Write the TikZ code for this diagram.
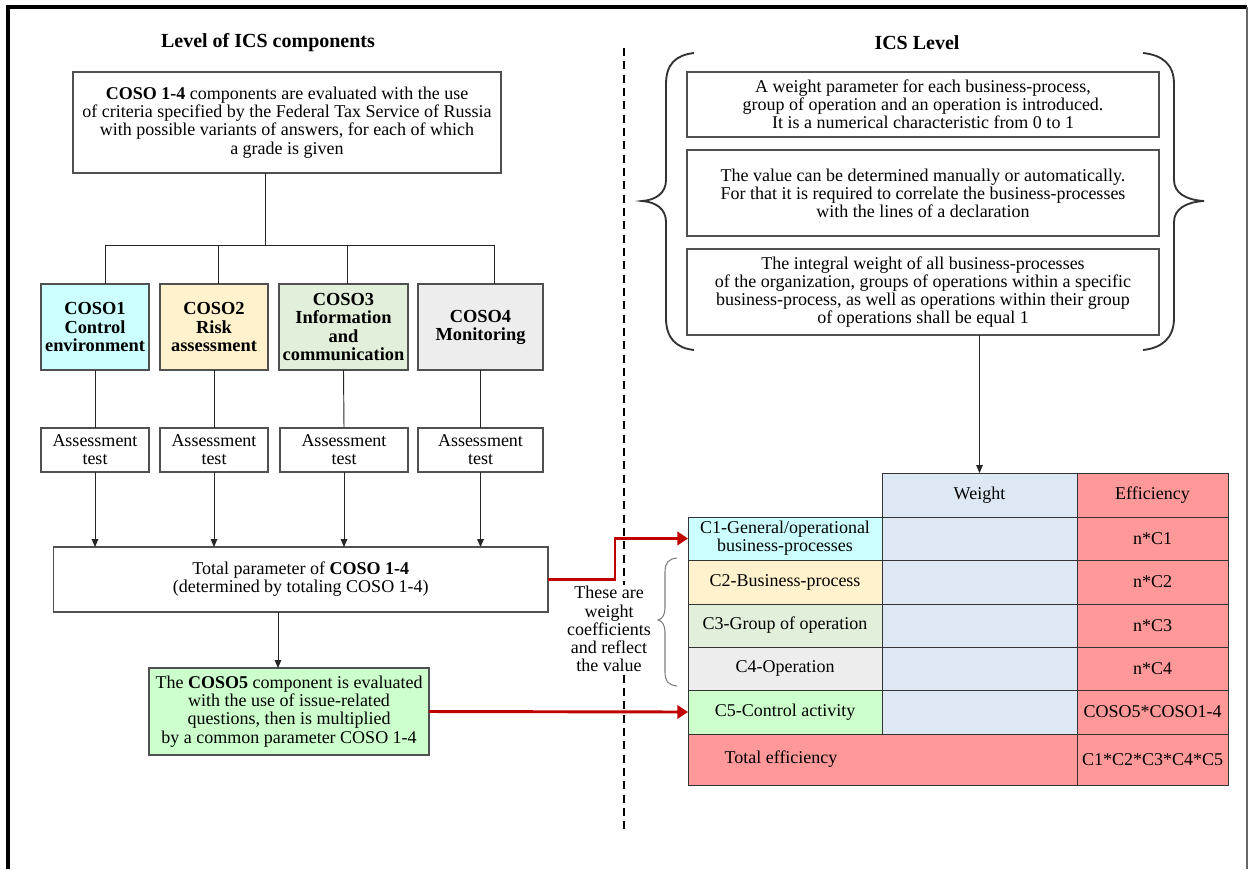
\documentclass[tikz,border=0pt]{standalone}
\usepackage{fontspec}
\setmainfont{Liberation Serif}
\usetikzlibrary{arrows.meta,calc}
\definecolor{cCyan}{HTML}{CCFFFF}
\definecolor{cYellow}{HTML}{FFF2CC}
\definecolor{cSage}{HTML}{E2EFDA}
\definecolor{cGray}{HTML}{EDEDED}
\definecolor{cGreen}{HTML}{CCFFCC}
\definecolor{cBlue}{HTML}{DEE7F4}
\definecolor{cSalmon}{HTML}{FF9999}
\definecolor{cRed}{HTML}{C00000}
\definecolor{boxline}{HTML}{505050}
\newcommand\txtR{\fontsize{13.5}{13.6}\selectfont}
\newcommand\txtB{\fontsize{13.8}{13.6}\selectfont\bfseries}
\begin{document}
\begin{tikzpicture}[x=0.75pt,y=-0.75pt,
  box/.style={draw=boxline, line width=0.8pt, align=center, inner sep=1pt, outer sep=0pt, font=\txtR},
  cosobox/.style={box, font=\txtB, minimum height=64.5pt},
  assess/.style={box, minimum height=33pt},
  cell/.style={draw=black!80, line width=0.7pt, align=center, inner sep=1pt, outer sep=0pt, font=\txtR},
  conn/.style={draw=black!85, line width=0.7pt},
  arr/.style={conn, -{Triangle[length=6pt,width=5pt]}},
  redarr/.style={draw=cRed, line width=2.2pt, -{Triangle[length=8pt,width=10pt]}},
  title/.style={font=\fontsize{15}{16}\selectfont\bfseries},
  brace/.style={draw=black!80, line width=1.4pt},
  smallbrace/.style={draw=black!50, line width=0.8pt}
]
\useasboundingbox (0,0) rectangle (1249,869);
% frame
\draw[line width=2.4pt] (8,869) -- (8,7) -- (1247,7);
\draw[line width=1pt, black!60] (1247,7) -- (1247,869);
% dashed divider
\draw[line width=1pt, dash pattern=on 6pt off 4pt] (624,48) -- (624,830);

% titles
\node[title] (t1) at (268,43) {Level of ICS components};
\node[title] (t2) at (917,43) {ICS Level};

% left side
\node[box, minimum width=321pt, minimum height=75.75pt] (top) at (287,122.5)
  {\textbf{COSO 1-4} components are evaluated with the use\\of criteria specified by the Federal Tax Service of Russia\\with possible variants of answers, for each of which\\a grade is given};

\node[cosobox, fill=cCyan, minimum width=81pt] (coso1) at (95,327) {COSO1\\Control\\environment};
\node[cosobox, fill=cYellow, minimum width=81pt] (coso2) at (214,327) {COSO2\\Risk\\assessment};
\node[cosobox, fill=cSage, minimum width=96.75pt] (coso3) at (343.5,327) {COSO3\\Information\\and\\communication};
\node[cosobox, fill=cGray, minimum width=93.75pt] (coso4) at (480.5,327) {COSO4\\Monitoring};

\node[assess, minimum width=81pt] (as1) at (95,450) {Assessment\\test};
\node[assess, minimum width=81pt] (as2) at (214,450) {Assessment\\test};
\node[assess, minimum width=96pt] (as3) at (344,450) {Assessment\\test};
\node[assess, minimum width=93.75pt] (as4) at (480.5,450) {Assessment\\test};

\node[box, minimum width=370.9pt, minimum height=48.75pt] (total) at (300.75,579.5)
  {Total parameter of \textbf{COSO 1-4}\\(determined by totaling COSO 1-4)};
\node[box, fill=cGreen, minimum width=210pt, minimum height=65.25pt] (coso5) at (289,711.5)
  {The \textbf{COSO5} component is evaluated\\with the use of issue-related\\questions, then is multiplied\\by a common parameter COSO 1-4};

% tree connectors
\coordinate (busy) at (0,245);
\coordinate (topdrop) at ($(top.south)+(-22,0)$);
\coordinate (d1) at ($(coso1.north)+(10,0)$);
\coordinate (d2) at ($(coso2.north)+(4,0)$);
\coordinate (d3) at ($(coso3.north)+(3.5,0)$);
\coordinate (d4) at ($(coso4.north)+(13.5,0)$);
\draw[conn] (topdrop) -- (topdrop |- busy);
\draw[conn] (d1) |- (d4 |- busy) -- (d4);
\draw[conn] (d2) -- (d2 |- busy);
\draw[conn] (d3) -- (d3 |- busy);
\foreach \i in {1,2,3,4} {
  \draw[conn] (coso\i.south) -- (as\i.north);
  \draw[arr] (as\i.south) -- (as\i.south |- total.north);
}
\draw[arr] ($(total.south -| coso5.north)+(-11,0)$) -- ($(coso5.north)+(-11,0)$);

% right side boxes
\node[box, minimum width=354pt, minimum height=48.75pt] (bA) at (923,104.5)
  {A weight parameter for each business-process,\\group of operation and an operation is introduced.\\It is a numerical characteristic from 0 to 1};
\node[box, minimum width=354pt, minimum height=64.5pt] (bB) at (923,193)
  {The value can be determined manually or automatically.\\For that it is required to correlate the business-processes\\with the lines of a declaration};
\node[box, minimum width=354pt, minimum height=64.5pt] (bC) at (923,292)
  {The integral weight of all business-processes\\of the organization, groups of operations within a specific\\business-process, as well as operations within their group\\of operations shall be equal 1};

% big braces
\draw[brace] (694,53) .. controls (676,55) and (666,64) .. (666,84) -- (666,180)
  .. controls (666,193) and (656,200) .. (642,201)
  .. controls (656,202) and (666,209) .. (666,222) -- (666,318)
  .. controls (666,338) and (676,348) .. (694,350);
\draw[brace] (1143,53) .. controls (1162,55) and (1174,64) .. (1174,84) -- (1174,180)
  .. controls (1174,193) and (1186,200) .. (1204,201)
  .. controls (1186,202) and (1174,209) .. (1174,222) -- (1174,318)
  .. controls (1174,338) and (1162,348) .. (1143,350);

% table
\node[cell, fill=cBlue, minimum width=146.25pt, minimum height=33pt] (wh) at (979.5,495) {Weight};
\node[cell, fill=cSalmon, minimum width=113.25pt, minimum height=33pt] (eh) at (1152.5,495) {Efficiency};

\node[cell, fill=cCyan, minimum width=145.5pt, minimum height=32.25pt] (c1) at (785,538.5) {C1-General/operational\\business-processes};
\node[cell, fill=cBlue, minimum width=146.25pt, minimum height=32.25pt] (w1) at (979.5,538.5) {};
\node[cell, fill=cSalmon, minimum width=113.25pt, minimum height=32.25pt] (e1) at (1152.5,538.5) {n*C1};

\node[cell, fill=cYellow, minimum width=145.5pt, minimum height=33pt] (c2) at (785,582) {C2-Business-process};
\node[cell, fill=cBlue, minimum width=146.25pt, minimum height=33pt] (w2) at (979.5,582) {};
\node[cell, fill=cSalmon, minimum width=113.25pt, minimum height=33pt] (e2) at (1152.5,582) {n*C2};

\node[cell, fill=cSage, minimum width=145.5pt, minimum height=32.25pt] (c3) at (785,625.5) {C3-Group of operation};
\node[cell, fill=cBlue, minimum width=146.25pt, minimum height=32.25pt] (w3) at (979.5,625.5) {};
\node[cell, fill=cSalmon, minimum width=113.25pt, minimum height=32.25pt] (e3) at (1152.5,625.5) {n*C3};

\node[cell, fill=cGray, minimum width=145.5pt, minimum height=32.25pt] (c4) at (785,668.5) {C4-Operation};
\node[cell, fill=cBlue, minimum width=146.25pt, minimum height=32.25pt] (w4) at (979.5,668.5) {};
\node[cell, fill=cSalmon, minimum width=113.25pt, minimum height=32.25pt] (e4) at (1152.5,668.5) {n*C4};

\node[cell, fill=cGreen, minimum width=145.5pt, minimum height=33pt] (c5) at (785,712) {C5-Control activity};
\node[cell, fill=cBlue, minimum width=146.25pt, minimum height=33pt] (w5) at (979.5,712) {};
\node[cell, fill=cSalmon, minimum width=113.25pt, minimum height=33pt] (e5) at (1152.5,712) {COSO5*COSO1-4};

\node[cell, fill=cSalmon, minimum width=291.75pt, minimum height=38.25pt] (tt) at (882.5,759.5) {};
\node[font=\txtR] (ttl) at (781,759) {Total efficiency};
\node[cell, fill=cSalmon, minimum width=113.25pt, minimum height=38.25pt] (te) at (1152.5,759.5) {C1*C2*C3*C4*C5};

% arrow from right boxes to table
\draw[arr] (bC.south -| wh.north) -- (wh.north);

% small brace
\draw[smallbrace] (677,558) .. controls (668,559) and (665,563) .. (665,572) -- (665,608)
  .. controls (665,615) and (662,619) .. (658,620)
  .. controls (662,621) and (665,625) .. (665,632) -- (665,672)
  .. controls (665,681) and (668,685) .. (677,686);

% note text
\node[font=\txtR, align=center, fill=white, inner sep=1pt] (note) at (609,629)
  {These are\\weight\\coefficients\\and reflect\\the value};

% red connectors
\draw[redarr] (total.east) -- ++(67,0) |- (c1.west);
\draw[redarr] (coso5.east) -- (c5.west);
\end{tikzpicture}
\end{document}
